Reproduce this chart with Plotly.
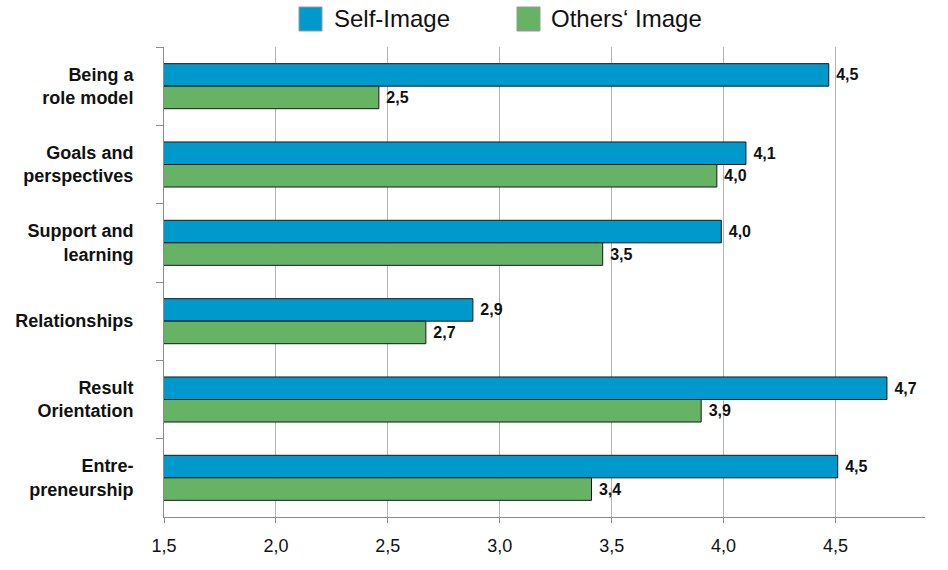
import plotly.graph_objects as go

categories = ["Being a<br>role model", "Goals and<br>perspectives", "Support and<br>learning",
              "Relationships", "Result<br>Orientation", "Entre-<br>preneurship"]
series_names = ["Self-Image", "Others\u2018 Image"]
self_image = [4.47, 4.10, 3.99, 2.88, 4.73, 4.51]
others_image = [2.46, 3.97, 3.46, 2.67, 3.90, 3.41]
x_ticks = [1.5, 2.0, 2.5, 3.0, 3.5, 4.0, 4.5]
x_tick_labels = ["1,5", "2,0", "2,5", "3,0", "3,5", "4,0", "4,5"]

colors = ["#0099CC", "#66B366"]
FONT = "Liberation Sans"

def fmt(v):
    return " " + f"{v:.1f}".replace(".", ",")

fig = go.Figure()
for name, vals, col in zip(series_names, [self_image, others_image], colors):
    fig.add_trace(go.Bar(
        y=categories, x=vals, orientation="h", name=name,
        marker=dict(color=col, line=dict(color="#1a1a1a", width=1)),
        text=[fmt(v) for v in vals], textposition="outside",
        textfont=dict(family=FONT, size=16, color="#111111", weight="bold"),
        cliponaxis=False, showlegend=False,
    ))

# custom legend (big square swatches)
legend_x = [(299, 332), (517, 549)]
for (sx, tx), name, col in zip(legend_x, series_names, colors):
    fig.add_shape(type="rect", xref="paper", yref="paper",
                  x0=(sx - 164) / 761, x1=(sx + 23 - 164) / 761,
                  y0=(570 - 53 - 31) / 470, y1=(570 - 53 - 7) / 470,
                  fillcolor=col, line=dict(color="#999999", width=1), layer="above")
    fig.add_annotation(xref="paper", yref="paper", x=(tx - 164) / 761, y=(570 - 53 - 18) / 470,
                       text=name, showarrow=False, xanchor="left", yanchor="middle",
                       font=dict(family=FONT, size=24, color="#111111"))

fig.update_layout(
    width=948, height=570,
    margin=dict(l=164, r=23, t=47, b=53),
    paper_bgcolor="white", plot_bgcolor="white",
    barmode="group", bargap=0.425, bargroupgap=0,
    separators=",.",
    showlegend=False,
    font=dict(family=FONT, color="#111111"),
    xaxis=dict(range=[1.5, 4.9], tickvals=x_ticks, ticktext=x_tick_labels,
               showgrid=True, gridcolor="#B4B4B4", gridwidth=1,
               showline=True, linecolor="#8C8C8C", linewidth=1,
               ticks="outside", ticklen=5, tickcolor="#8C8C8C",
               tickfont=dict(family=FONT, size=18, color="#111111"),
               ticklabelstandoff=7,
               zeroline=False),
    yaxis=dict(autorange="reversed", showgrid=False,
               showline=True, linecolor="#8C8C8C", linewidth=1,
               ticks="outside", ticklen=7, tickcolor="#8C8C8C", tickson="boundaries",
               tickfont=dict(family=FONT, size=18, color="#111111", weight="bold"),
               ticklabelstandoff=26),
)

fig.write_html("out.html")
